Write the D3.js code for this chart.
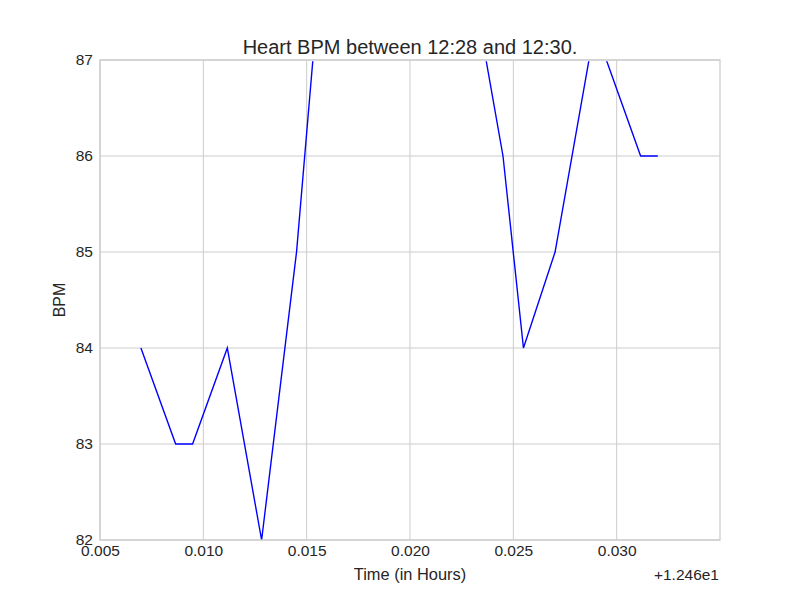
<!DOCTYPE html>
<html><head><meta charset="utf-8">
<script src="https://cdn.jsdelivr.net/npm/d3@7"></script>
<style>body{margin:0;background:#fff}svg{display:block}text{font-family:"Liberation Sans",Arial,sans-serif;fill:#262626}</style>
</head><body>
<script>
// time offsets in hours, relative to 12.46
const timeOffsets = [0.00698, 0.00866, 0.00948, 0.01116, 0.01282, 0.01451, 0.01530,
  0.01614, 0.01782, 0.01950, 0.02116, 0.02284, 0.02368, 0.02450, 0.02549, 0.02702,
  0.02866, 0.02950, 0.03116, 0.03199];
const bpm = [84, 83, 83, 84, 82, 85, 87, 87, 87, 87, 87, 87, 87, 86, 84, 85, 87, 87, 86, 86];
const xTicks = [0.005, 0.010, 0.015, 0.020, 0.025, 0.030];
const yTicks = [82, 83, 84, 85, 86, 87];
const title = "Heart BPM between 12:28 and 12:30.";
const xLabel = "Time (in Hours)";
const yLabel = "BPM";
const offsetText = "+1.246e1";

const W = 800, H = 600, m = {l: 100, r: 80, t: 60, b: 60};
const svg = d3.select("body").append("svg").attr("width", W).attr("height", H);
const x = d3.scaleLinear().domain([0.005, 0.035]).range([m.l, W - m.r]);
const y = d3.scaleLinear().domain([82, 87]).range([H - m.b, m.t]);

// clip slightly inside the top spine so points at the limit hide under it
svg.append("defs").append("clipPath").attr("id", "clip").append("rect")
  .attr("x", m.l).attr("y", m.t + 1.2).attr("width", W - m.l - m.r).attr("height", H - m.t - m.b);

// grid
const grid = svg.append("g").attr("stroke", "#cccccc").attr("stroke-width", 1);
grid.selectAll(".gx").data(xTicks).join("line")
  .attr("x1", d => x(d)).attr("x2", d => x(d)).attr("y1", m.t).attr("y2", H - m.b);
grid.selectAll(".gy").data(yTicks).join("line")
  .attr("y1", d => y(d)).attr("y2", d => y(d)).attr("x1", m.l).attr("x2", W - m.r);

// line
const data = timeOffsets.map((t, i) => [t, bpm[i]]);
svg.append("path").datum(data).attr("clip-path", "url(#clip)")
  .attr("fill", "none").attr("stroke", "#0000ff").attr("stroke-width", 1.4)
  .attr("d", d3.line().x(d => x(d[0])).y(d => y(d[1])));

// frame
svg.append("rect").attr("x", m.l).attr("y", m.t).attr("width", W - m.l - m.r).attr("height", H - m.t - m.b)
  .attr("fill", "none").attr("stroke", "#cccccc").attr("stroke-width", 1.3);

// axes
const xAxis = svg.append("g").attr("transform", `translate(0,${H - m.b})`)
  .call(d3.axisBottom(x).tickValues(xTicks).tickFormat(d3.format(".3f")).tickSize(0).tickPadding(5));
const yAxis = svg.append("g").attr("transform", `translate(${m.l},0)`)
  .call(d3.axisLeft(y).tickValues(yTicks).tickFormat(d3.format("d")).tickSize(0).tickPadding(7));
[xAxis, yAxis].forEach(a => {
  a.select(".domain").remove();
  a.selectAll("text").attr("font-size", 15.5).style("fill", "#262626").attr("font-family", "Liberation Sans, Arial, sans-serif");
});

svg.append("text").attr("x", (m.l + W - m.r) / 2).attr("y", 54).attr("text-anchor", "middle")
  .attr("font-size", 20).text(title);
svg.append("text").attr("x", (m.l + W - m.r) / 2).attr("y", 580).attr("text-anchor", "middle")
  .attr("font-size", 16.4).text(xLabel);
svg.append("text").attr("transform", `translate(65,${(m.t + H - m.b) / 2}) rotate(-90)`).attr("text-anchor", "middle")
  .attr("font-size", 16).text(yLabel);
svg.append("text").attr("x", W - m.r - 1).attr("y", 580).attr("text-anchor", "end")
  .attr("font-size", 15.5).text(offsetText);
</script>
</body></html>
